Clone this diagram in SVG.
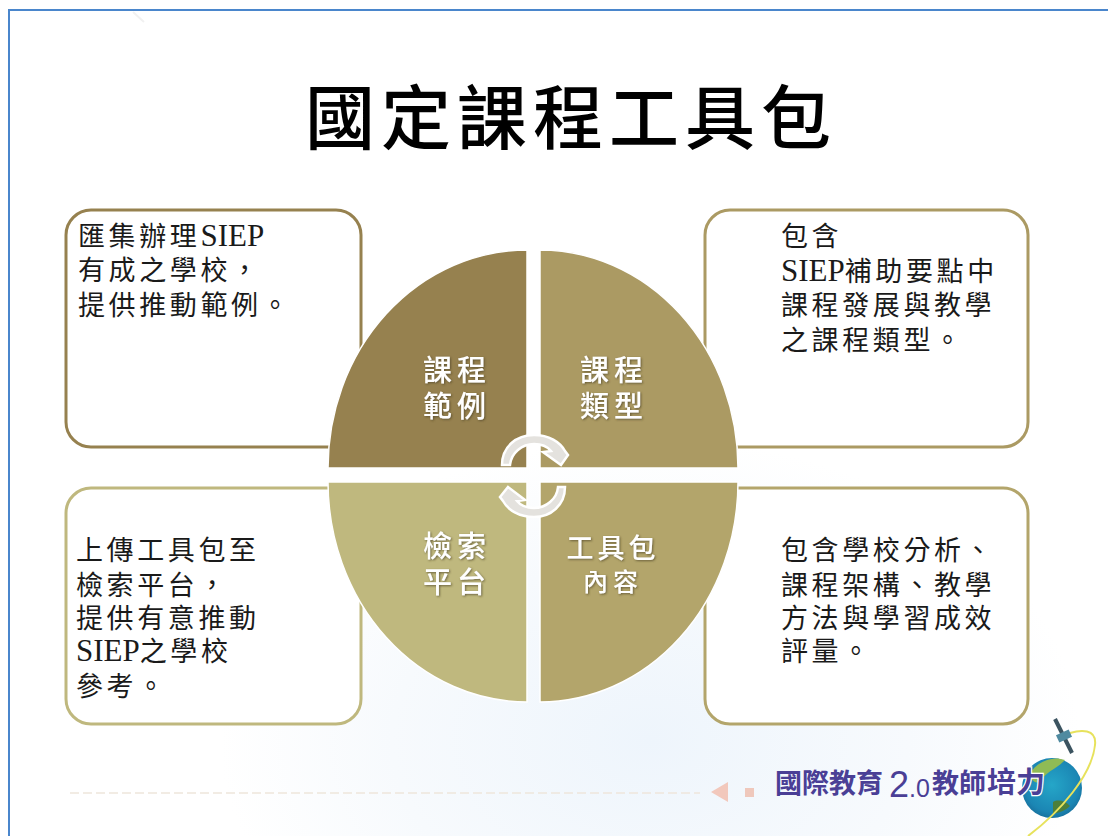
<svg xmlns="http://www.w3.org/2000/svg" width="1108" height="836" viewBox="0 0 1108 836">
<style>
text{font-family:"Liberation Serif","Noto Sans CJK TC",serif}
.body{font-size:27px;fill:#1a1a1a;letter-spacing:3.6px}
.lat{font-size:31px;letter-spacing:0}
.box{fill:#fff;stroke-width:3}
.label{font-size:29px;font-weight:500;fill:#fff;letter-spacing:5px;text-anchor:middle;filter:url(#sh)}
.ring{fill:#e4e2de;stroke:#fff;stroke-width:2.5}
.logo{font-family:"Noto Sans CJK TC",sans-serif;font-weight:700;fill:#4a3f96}
</style>
<defs>
<filter id="sh" x="-20%" y="-20%" width="140%" height="140%"><feDropShadow dx="1" dy="1" stdDeviation="0.8" flood-color="#4a4020" flood-opacity=".7"/></filter>
<radialGradient id="bg" gradientUnits="userSpaceOnUse" cx="650" cy="740" r="430" gradientTransform="translate(650 740) scale(1 .7) translate(-650 -740)">
<stop offset="0" stop-color="#eef5fc"/><stop offset=".6" stop-color="#f7fafd"/><stop offset="1" stop-color="#fff"/></radialGradient>
<radialGradient id="globe" cx=".5" cy=".45" r=".6"><stop offset="0" stop-color="#25a6c8"/><stop offset=".75" stop-color="#1b86b4"/><stop offset="1" stop-color="#176a96"/></radialGradient>
</defs>
<rect width="1108" height="836" fill="#fff"/>
<rect x="9" y="10" width="1110" height="840" fill="url(#bg)" stroke="#4a86cc" stroke-width="2"/>
<path d="M133 12 L144 22" stroke="#f1f1f1" stroke-width="2"/>
<path d="M70 793 H700" stroke="#eee6dc" stroke-width="1.5" stroke-dasharray="9 4"/>

<text id="title" x="305" y="144" font-size="70" font-weight="500" fill="#000" letter-spacing="6">國定課程工具包</text>

<g id="box-tl"><rect class="box" x="66" y="210" width="295" height="237" rx="25" stroke="#96814f"/>
<text class="body"><tspan x="78" y="246">匯集辦理<tspan class="lat">SIEP</tspan></tspan><tspan x="78" y="280">有成之學校，</tspan><tspan x="78" y="315">提供推動範例。</tspan></text></g>
<g id="box-tr"><rect class="box" x="705" y="210" width="323" height="237" rx="25" stroke="#ab9a63"/>
<text class="body"><tspan x="781" y="246">包含</tspan><tspan x="781" y="281"><tspan class="lat">SIEP</tspan>補助要點中</tspan><tspan x="781" y="315">課程發展與教學</tspan><tspan x="781" y="350">之課程類型。</tspan></text></g>
<g id="box-bl"><rect class="box" x="66" y="488" width="295" height="236" rx="25" stroke="#bfb87e"/>
<text class="body"><tspan x="76" y="560">上傳工具包至</tspan><tspan x="76" y="595">檢索平台，</tspan><tspan x="76" y="628">提供有意推動</tspan><tspan x="76" y="661"><tspan class="lat">SIEP</tspan>之學校</tspan><tspan x="76" y="696">參考。</tspan></text></g>
<g id="box-br"><rect class="box" x="705" y="488" width="323" height="236" rx="25" stroke="#b3a56b"/>
<text class="body"><tspan x="781" y="560">包含學校分析、</tspan><tspan x="781" y="595">課程架構、教學</tspan><tspan x="781" y="628">方法與學習成效</tspan><tspan x="781" y="661">評量。</tspan></text></g>

<g id="q-tl"><path d="M527 468H328A199 218 0 0 1 527 250Z" fill="#96814f" stroke="#fff" stroke-width="1.5"/>
<text class="label" x="457" y="381">課程</text><text class="label" x="457" y="417">範例</text></g>
<g id="q-tr"><path d="M540 468H738A198 218 0 0 0 540 250Z" fill="#ab9a63" stroke="#fff" stroke-width="1.5"/>
<text class="label" x="614" y="381">課程</text><text class="label" x="614" y="417">類型</text></g>
<g id="q-bl"><path d="M527 482H328A199 220 0 0 0 527 702Z" fill="#bfb87e" stroke="#fff" stroke-width="1.5"/>
<text class="label" x="457" y="557">檢索</text><text class="label" x="457" y="593">平台</text></g>
<g id="q-br"><path d="M540 482H738A198 220 0 0 1 540 702Z" fill="#b3a56b" stroke="#fff" stroke-width="1.5"/>
<text class="label" x="613" y="558" style="font-size:27px;letter-spacing:4px">工具包</text><text class="label" x="613" y="591" style="font-size:25px;letter-spacing:5px">內容</text></g>

<g id="connectors">
<path class="ring" d="M502 465C502 447 516 435 534 435C549 435 560 442 565 451L568 455L561 465L543 452L551 451C547 446 541 444 534 444C522 444 511 453 510 465Z"/>
<path class="ring" d="M565 487C565 505 551 517 534 517C519 517 508 510 503 501L500 497L508 487L525 500L517 501C521 506 527 508 534 508C546 508 557 499 558 487Z"/>
</g>

<g id="logo">
<path d="M728 782L711 792L728 802Z" fill="#f2c8bc"/>
<rect x="745" y="788" width="9" height="9" fill="#efc8bc"/>
<circle cx="1052" cy="788" r="30" fill="url(#globe)"/>
<path d="M1029 775C1036 762 1052 755 1065 760C1058 768 1045 772 1040 782C1036 784 1032 781 1029 775Z" fill="#8fbb55"/>
<path d="M1053 802C1058 799 1066 801 1070 806C1065 811 1058 813 1053 814Z" fill="#4d7f3b"/>
<path d="M1028 836C1060 812 1092 775 1095 745C1097 728 1080 730 1070 733" fill="none" stroke="#e7e25c" stroke-width="2"/>
<path d="M1055 719L1072 753" stroke="#3b5360" stroke-width="4"/>
<rect x="1057" y="732" width="14" height="8" transform="rotate(-25 1064 736)" fill="#4f8aa0"/>
<text class="logo" x="775" y="793" font-size="27">國際教育</text>
<text x="889" y="797" font-size="36" fill="#4a3f96" style="font-family:'Liberation Sans',sans-serif">2<tspan font-size="25">.0</tspan></text>
<text class="logo" x="932" y="793" font-size="27">教師</text>
<text class="logo" x="987" y="793" font-size="29" stroke="#fff" stroke-width="2.5" paint-order="stroke">培力</text>
</g>
</svg>
